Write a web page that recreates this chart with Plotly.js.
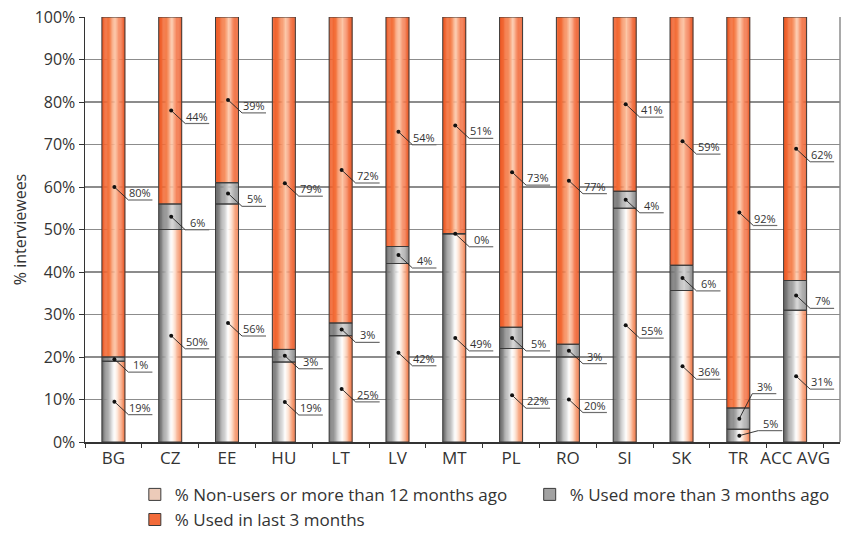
<!DOCTYPE html>
<html><head><meta charset="utf-8">
<script src="https://cdn.plot.ly/plotly-3.0.1.min.js"></script>
<style>html,body{margin:0;padding:0;background:#fff}#chart{width:850px;height:534px}</style>
</head><body><div id="chart"></div>
<script>
// ---- data ----
const categories = ['BG','CZ','EE','HU','LT','LV','MT','PL','RO','SI','SK','TR','ACC AVG'];
const nonUsers   = [19,50,56,19,25,42,49,22,20,55,36,3,31];
const usedOver3m = [1,6,5,3,3,4,0,5,3,4,6,5,7];
const usedLast3m = [80,44,39,79,72,54,51,73,77,41,59,92,62];
const labelsNonUsers = ['19%','50%','56%','19%','25%','42%','49%','22%','20%','55%','36%','5%','31%'];
const labelsOver3m   = ['1%','6%','5%','3%','3%','4%','0%','5%','3%','4%','6%','3%','7%'];
const labelsLast3m   = ['80%','44%','39%','79%','72%','54%','51%','73%','77%','41%','59%','92%','62%'];
const seriesNames = ['% Non-users or more than 12 months ago','% Used more than 3 months ago','% Used in last 3 months'];
const yTickVals = [0,10,20,30,40,50,60,70,80,90,100];

// ---- styles ----
const FONT = 'Open Sans, sans-serif';
const BAR_W = 0.405, N_STRIPES = 20;
const gradients = [
  [[0,'#666666'],[0.15,'#8a8a8a'],[0.35,'#c4c4c4'],[0.55,'#ffffff'],[0.7,'#fde0cf'],[0.86,'#f6a37c'],[1,'#ef7444']],
  [[0,'#666666'],[0.25,'#8a8a8a'],[0.6,'#d4d4d4'],[0.8,'#b2b2b2'],[1,'#888888']],
  [[0,'#ee5824'],[0.3,'#f3743e'],[0.58,'#fcc8aa'],[0.78,'#f5835a'],[1,'#ea5a28']]
];
const legendColors = ['#eccbb9','#a2a2a2','#f26b3a'];
const legendOf = ['legend','legend2','legend'];
const XMAX = 12.79;
const PXX = 755 / (XMAX + 0.5), PXY = 425 / 100;

function hex(c){return [parseInt(c.slice(1,3),16),parseInt(c.slice(3,5),16),parseInt(c.slice(5,7),16)];}
function gradAt(stops,t){
  for(let k=0;k<stops.length-1;k++){
    const [p0,c0]=stops[k],[p1,c1]=stops[k+1];
    if(t<=p1){const f=(t-p0)/(p1-p0);const a=hex(c0),b=hex(c1);
      return 'rgb('+a.map((v,j)=>Math.round(v+(b[j]-v)*f)).join(',')+')';}
  }
  return stops[stops.length-1][1];
}

const idx = categories.map((_,i)=>i);
const raw = [nonUsers, usedOver3m, usedLast3m];
const labels = [labelsNonUsers, labelsOver3m, labelsLast3m];
const totals = idx.map(i=>raw.reduce((s,a)=>s+a[i],0));
const pct = raw.map(a=>a.map((v,i)=>v*100/totals[i]));
const bases = pct.map((a,s)=>a.map((v,i)=>{let b=0;for(let k=0;k<s;k++)b+=pct[k][i];return b;}));

const traces = [];
const sw = BAR_W / N_STRIPES;
for(let s=0;s<3;s++){
  for(let k=0;k<N_STRIPES;k++){
    traces.push({type:'bar', x:idx, y:pct[s], base:bases[s], width:sw*1.25,
      offset:-BAR_W/2 + k*sw, marker:{color:gradAt(gradients[s],(k+0.5)/N_STRIPES), line:{width:0}},
      hoverinfo:'skip', showlegend:false});
  }
}
for(let s=0;s<3;s++){
  traces.push({type:'bar', x:idx, y:pct[s], base:bases[s], width:BAR_W,
    marker:{color:'rgba(0,0,0,0)', line:{color:'#3a3a3a', width:1}}, hoverinfo:'skip', showlegend:false});
}
for(let s=0;s<3;s++){
  traces.push({type:'bar', x:[-5], y:[1], base:[0], name:seriesNames[s], legend:legendOf[s], legendgroup:'g'+s,
    marker:{color:legendColors[s], line:{color:'#3a3a3a', width:1}}, hoverinfo:'skip'});
}

// leader lines and labels
const lx=[], ly=[], ux=[], uy=[], dx=[], dy=[], annotations=[];
const DXp=14, DYp=13, ULp=24;
for(let s=0;s<3;s++){
  for(let i=0;i<idx.length;i++){
    let ddx=DXp, ddy=DYp;
    if(categories[i]==='TR' && s===0){ddx=19; ddy=-5;}
    if(categories[i]==='TR' && s===1){ddx=13; ddy=-25;}
    const px = i + 1/PXX;
    const py = bases[s][i] + pct[s][i]/2;
    const ex = px + ddx/PXX, ey = py - ddy/PXY;
    const endx = ex + ULp/PXX;
    dx.push(px); dy.push(py);
    lx.push(px, ex, null); ly.push(py, ey, null);
    ux.push(ex, endx, null); uy.push(ey, ey, null);
    annotations.push({x:(ex+endx)/2, y:ey, xref:'x', yref:'y', text:labels[s][i], showarrow:false,
      xanchor:'center', yanchor:'bottom', yshift:-2, font:{family:FONT, size:11, color:'#333'}});
  }
}
traces.push({type:'scatter', mode:'lines', x:ux, y:uy, line:{color:'#6e6e6e', width:1.2}, hoverinfo:'skip', showlegend:false});
traces.push({type:'scatter', mode:'lines', x:lx, y:ly, line:{color:'#222', width:0.9}, hoverinfo:'skip', showlegend:false});
traces.push({type:'scatter', mode:'markers', x:dx, y:dy, marker:{color:'#111', size:4}, hoverinfo:'skip', showlegend:false});

const legendBase = {orientation:'v', xanchor:'left', yanchor:'top', y:-0.082, font:{size:17, color:'#333'},
  traceorder:'grouped', tracegroupgap:0, bgcolor:'rgba(0,0,0,0)'};
const layout = {
  width:850, height:534, margin:{l:85, r:10, t:17, b:92, autoexpand:false},
  paper_bgcolor:'#fff', plot_bgcolor:'#fff',
  barmode:'overlay', font:{family:FONT, color:'#333'},
  xaxis:{type:'linear', range:[-0.5, XMAX], tickvals:idx, ticktext:categories, ticks:'', showgrid:false,
    zeroline:false, showline:true, linecolor:'#333', linewidth:1.5, tickfont:{size:17, color:'#333'},
    minor:{tickmode:'linear', tick0:-0.5, dtick:1, ticks:'outside', ticklen:4, tickcolor:'#333', tickwidth:1, showgrid:false}},
  yaxis:{range:[0,100], tickvals:yTickVals, ticktext:yTickVals.map(v=>v+'%'), showgrid:true, gridcolor:'#8c8c8c', gridwidth:1.5,
    zeroline:false, showline:true, linecolor:'#333', linewidth:1.5, ticks:'outside', ticklen:5, tickcolor:'#333',
    tickfont:{size:16, color:'#333'}, title:{text:'% interviewees', font:{size:16, color:'#333'}, standoff:4}},
  legend:Object.assign({}, legendBase, {x:0.066}),
  legend2:Object.assign({}, legendBase, {x:0.589}),
  shapes:[{type:'line', xref:'paper', yref:'paper', x0:1, x1:1, y0:0, y1:1, line:{color:'#8c8c8c', width:1.5}}],
  annotations:annotations
};
Plotly.newPlot('chart', traces, layout, {staticPlot:true});
</script></body></html>
